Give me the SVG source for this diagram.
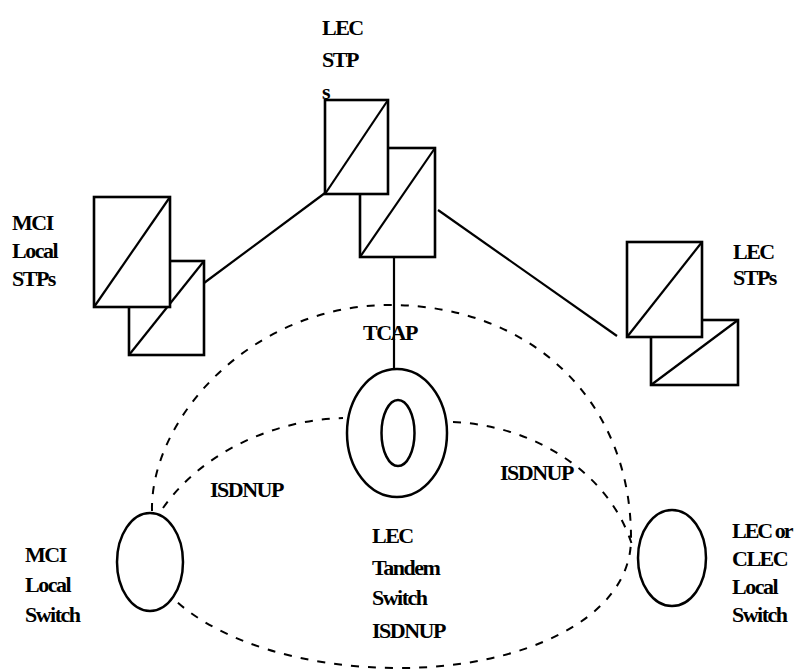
<svg xmlns="http://www.w3.org/2000/svg" width="794" height="669" viewBox="0 0 794 669">
<style>
.box{fill:#fff;stroke:#000;stroke-width:2.6}
.ln{fill:none;stroke:#000;stroke-width:2.2}
.dash{fill:none;stroke:#000;stroke-width:2;stroke-dasharray:8 9}
.el{fill:#fff;stroke:#000;stroke-width:2.5}
text{font-family:"Liberation Serif","Times New Roman",serif;font-size:22px;font-weight:bold;letter-spacing:-1.5px;fill:#000}
.tight{letter-spacing:-2px}
</style>
<rect width="794" height="669" fill="#fff"/>
<g id="connectors">
<path class="dash" d="M152,511 C150,420 250,305 390,305 C530,305 632,400 631,540 C630,620 520,668 400,668 C300,668 220,640 177,602"/>
<path class="dash" d="M163,508 C200,455 270,420 343,418"/>
<path class="dash" d="M453,422 C530,425 610,470 633,548"/>
<line class="ln" x1="204" y1="283" x2="325" y2="193"/>
<line class="ln" x1="438" y1="210" x2="617" y2="336"/>
<line class="ln" x1="394" y1="257" x2="394" y2="370"/>
</g>
<g id="lec-stps-top">
<rect class="box" x="360" y="148" width="75" height="109"/>
<line class="ln" x1="360" y1="257" x2="435" y2="148"/>
<rect class="box" x="325" y="100" width="63" height="94"/>
<line class="ln" x1="325" y1="194" x2="388" y2="100"/>
<text x="322" y="35">LEC</text>
<text x="322" y="67">STP</text>
<text x="322" y="99">s</text>
</g>
<g id="mci-local-stps">
<rect class="box" x="129" y="261" width="75" height="94"/>
<line class="ln" x1="129" y1="355" x2="204" y2="261"/>
<rect class="box" x="94" y="197" width="76" height="110"/>
<line class="ln" x1="94" y1="307" x2="170" y2="197"/>
<text x="12" y="230">MCI</text>
<text x="12" y="258">Local</text>
<text x="12" y="286">STPs</text>
</g>
<g id="lec-stps-right">
<rect class="box" x="651" y="320" width="87" height="65"/>
<line class="ln" x1="651" y1="385" x2="738" y2="320"/>
<rect class="box" x="627" y="242" width="75" height="95"/>
<line class="ln" x1="627" y1="337" x2="702" y2="242"/>
<text x="733" y="259">LEC</text>
<text x="733" y="285">STPs</text>
</g>
<g id="tcap-label">
<text x="363" y="340">TCAP</text>
</g>
<g id="lec-tandem-switch">
<ellipse class="el" cx="397" cy="433" rx="50" ry="64"/>
<ellipse class="el" cx="398" cy="433" rx="16.5" ry="33"/>
<text x="372" y="543">LEC</text>
<text x="372" y="575">Tandem</text>
<text x="372" y="605">Switch</text>
</g>
<g id="mci-local-switch">
<ellipse class="el" cx="150" cy="562" rx="33" ry="49"/>
<text x="25" y="562">MCI</text>
<text x="25" y="592">Local</text>
<text x="25" y="622">Switch</text>
</g>
<g id="lec-clec-local-switch">
<ellipse class="el" cx="672" cy="558" rx="34" ry="48"/>
<text class="tight" x="732" y="538">LEC or</text>
<text x="732" y="566">CLEC</text>
<text x="732" y="594">Local</text>
<text x="732" y="622">Switch</text>
</g>
<g id="isdnup-labels">
<text x="210" y="497">ISDNUP</text>
<text x="500" y="480">ISDNUP</text>
<text x="372" y="638">ISDNUP</text>
</g>
</svg>
